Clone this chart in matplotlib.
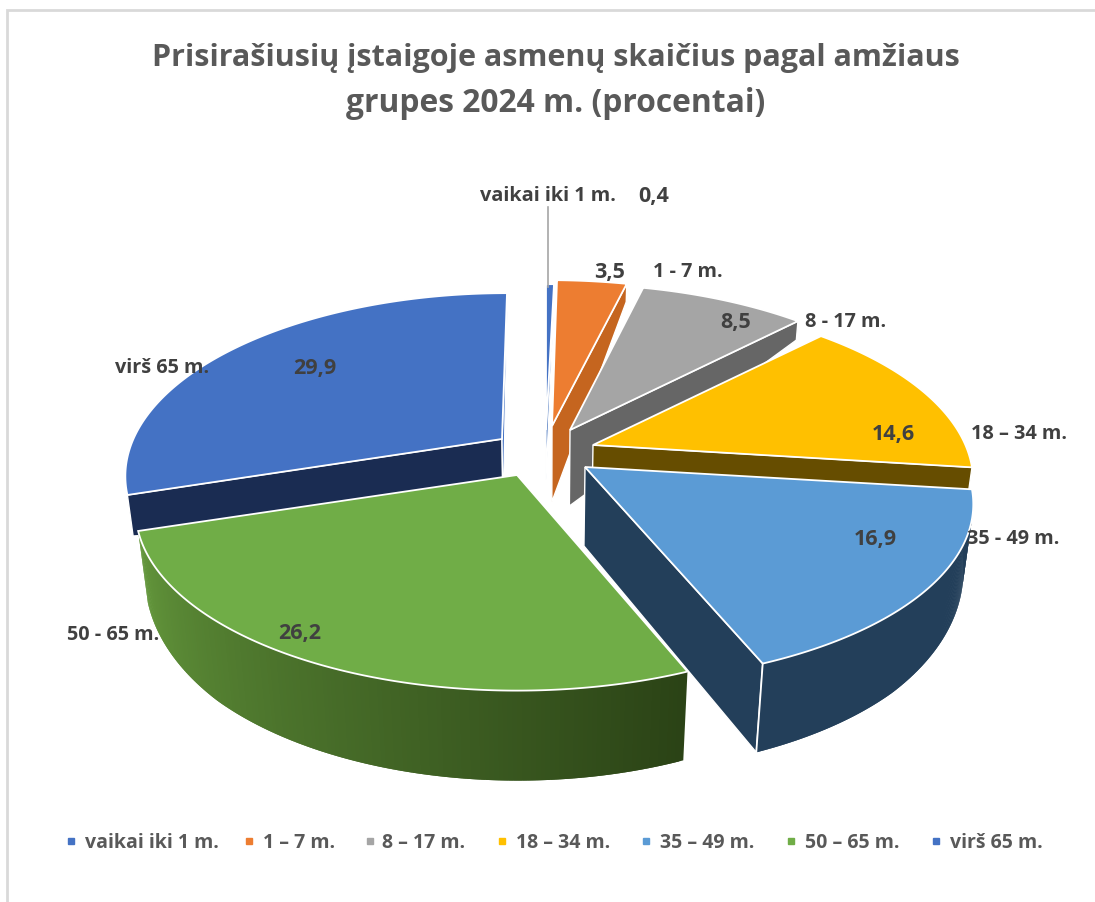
import numpy as np
import matplotlib
matplotlib.use("Agg")
import matplotlib.pyplot as plt
from matplotlib.collections import PolyCollection
from matplotlib.colors import to_rgb

# ---- data ----
categories = ["vaikai iki 1 m.", "1 – 7 m.", "8 – 17 m.", "18 – 34 m.", "35 – 49 m.", "50 – 65 m.", "virš 65 m."]
point_labels = ["vaikai iki 1 m.", "1 - 7 m.", "8 - 17 m.", "18 – 34 m.", "35 - 49 m.", "50 - 65 m.", "virš 65 m."]
values = [0.4, 3.5, 8.5, 14.6, 16.9, 26.2, 29.9]
title_lines = ["Prisirašiusių įstaigoje asmenų skaičius pagal amžiaus", "grupes 2024 m. (procentai)"]

# ---- style ----
top_colors = ["#4472C4", "#ED7D31", "#A5A5A5", "#FFC000", "#5B9BD5", "#70AD47", "#4472C4"]
rim_start = ["#2F5597", "#C5651F", "#666666", "#664D00", "#233F5A", "#2B4316", "#1A2C52"]
rim_end = ["#2F5597", "#C5651F", "#666666", "#664D00", "#233F5A", "#64983C", "#1A2C52"]
end_cut = ["#2F62B5", "#C5651F", "#666666", "#664D00", "#233F5A", None, "#3E6EC2"]
start_cut = [None, None, None, None, None, None, "#1A2C52"]

# ---- pie geometry (pixels) ----
apex = [(546, 431), (552, 427), (570, 431), (593, 446), (585, 468), (517, 476), (502, 440)]
radius_scale = [1.0, 1.0, 0.98, 0.98, 1.0, 0.985, 0.97]
shear = [0, -3, -3, -3, -5, 0, 5]
apex_depth = [50, 76, 76, 75, 79, 75, 75]
has_wall = [False, False, False, False, True, True, False]
RX, RY, PERSP = 380.0, 174.0, 0.193
draw_order = [6, 0, 1, 2, 3, 4, 5]

W, H = 1095, 903
fig = plt.figure(figsize=(W / 100, H / 100), dpi=100, facecolor="white")
ax = fig.add_axes([0, 0, 1, 1])
ax.set_xlim(0, W)
ax.set_ylim(H, 0)
ax.axis("off")

edges = np.cumsum([0] + values) / sum(values) * 360.0


def rim(i, deg):
    t = np.radians(deg)
    u, v = np.sin(t), np.cos(t)
    s = 1 / (1 + PERSP * v)
    return (apex[i][0] + radius_scale[i] * RX * u * s + shear[i] * v, apex[i][1] - RY * v * s, v)


def lower(x, y, d):
    return x - d / 90 * 0.03 * (x - 545), y + d


def depth(v):
    return np.interp(v, [-1, -0.7, -0.3, 0, 0.7, 1], [90, 85, 72, 60, 19, 18])


def cut(i, deg, color, rim_depth=None):
    x, y, v = rim(i, deg)
    d = depth(v) if rim_depth is None else rim_depth
    xb, yb = lower(x, y, d)
    ax_, ay_ = apex[i]
    axb, ayb = lower(ax_, ay_, apex_depth[i])
    ax.fill([ax_, x, xb, axb], [ay_, y, yb, ayb], facecolor=color, edgecolor="white", lw=1.0, joinstyle="miter")


for i in draw_order:
    a0, a1 = edges[i], edges[i + 1]
    if start_cut[i]:
        cut(i, a0, start_cut[i], rim_depth=41)
    if end_cut[i]:
        cut(i, a1, end_cut[i])
    # outer wall, only where it faces the viewer
    if has_wall[i]:
        th = np.linspace(a0, a1, 160)
        x, y, v = rim(i, th)
        xb, yb = lower(x, y, depth(v))
        last = len(x) - 1
        quads = [[(x[k], y[k]), (x[min(k + 2, last)], y[min(k + 2, last)]),
                  (xb[min(k + 2, last)], yb[min(k + 2, last)]), (xb[k], yb[k])] for k in range(last)]
        c0, c1 = np.array(to_rgb(rim_start[i])), np.array(to_rgb(rim_end[i]))
        f = np.linspace(1, 0, len(quads))[:, None]
        cols = c0 * f + c1 * (1 - f)
        ax.add_collection(PolyCollection(quads[::-1], facecolors=cols[::-1], edgecolors="none", linewidths=0))
    # top
    x, y, _ = rim(i, np.linspace(a0, a1, 160))
    ax.fill(np.r_[apex[i][0], x], np.r_[apex[i][1], y], facecolor=top_colors[i], edgecolor="white", lw=1.3, joinstyle="miter")
    if i == 4:
        xe, ye, ve = rim(i, a1)
        xb, yb = lower(xe, ye, depth(ve))
        ax.plot([xe, xb], [ye, yb], color="white", lw=1.3)

# ---- texts ----
FONT = "Open Sans"
for line, yy, fs in zip(title_lines, [58, 104], [22, 22.9]):
    ax.text(556, yy, line, ha="center", va="center", family=FONT, weight="bold", fontsize=fs, color="#595959")

# leader line of the smallest slice
ax.plot([548, 548], [208, 288], color="#A6A6A6", lw=1.2)

value_pos = [(654, 196.5), (610, 272.5), (736, 322.5), (893, 434.5), (875, 539.5), (300, 633.5), (315, 368.5)]
name_pos = [(548, 196.5), (688, 272.5), (846, 322.5), (1019, 434.5), (1013, 539.5), (113, 635.5), (162, 368.5)]
for val, lab, vp, np_ in zip(values, point_labels, value_pos, name_pos):
    ax.text(*vp, f"{val:.1f}".replace(".", ","), ha="center", va="center", family=FONT, weight="bold", fontsize=15.5, color="#404040")
    ax.text(*np_, lab, ha="center", va="center", family=FONT, weight="bold", fontsize=14.3, color="#404040")

# ---- legend ----
legend_marker_x = [71, 249, 370, 502, 646, 791, 936]
legend_text_x = [85, 263, 382, 516, 660, 805, 950]
for name, color, mx, tx in zip(categories, top_colors, legend_marker_x, legend_text_x):
    ax.plot([mx], [842], marker="s", ms=5, color=color, ls="none")
    ax.text(tx, 843.5, name, ha="left", va="center", family=FONT, weight="bold", fontsize=14, color="#595959")

# ---- frame of the pasted picture ----
ax.plot([6.5, 6.5, W], [H, 10.5, 10.5], color="#D9D9D9", lw=2, solid_joinstyle="miter")

fig.savefig("out.png", dpi=100)
